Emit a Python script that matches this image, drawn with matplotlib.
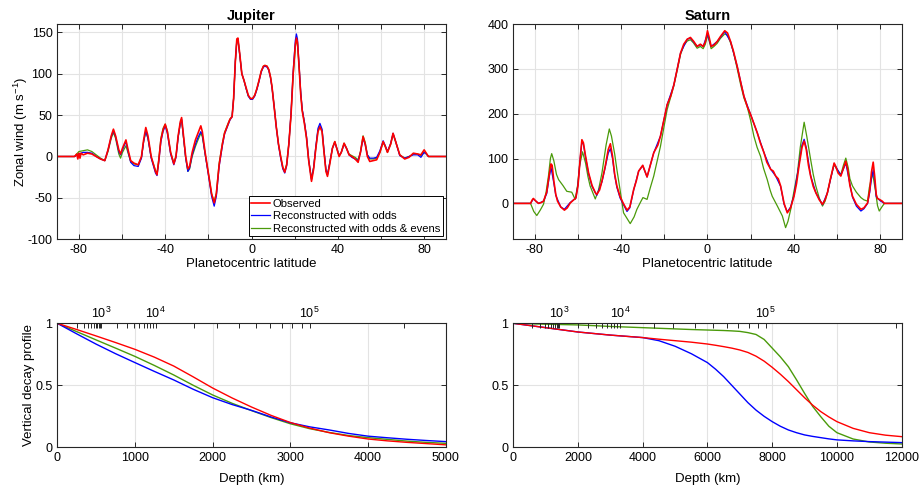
import numpy as np
import matplotlib
matplotlib.use("Agg")
import matplotlib.pyplot as plt

plt.rcParams['font.family'] = ['Liberation Sans', 'DejaVu Sans']
plt.rcParams['mathtext.default'] = 'regular'
plt.rcParams['axes.unicode_minus'] = False

RED = '#ff0000'
BLUE = '#0000ff'
GREEN = '#4a9a0a'
GRID = '#e3e3e3'
AXC = '#262626'

# ---- Jupiter zonal wind (lat, m/s) ----
jup_obs = [(-90,0),(-82,0),(-81,3),(-80.5,-3),(-80,4),(-79.5,-2),(-79,4),(-78,2),(-76,4),(-74,3),(-72,0),(-70,-3),(-68,-5),
    (-66.5,8),(-65,25),(-64,33),(-63,25),(-61.5,8),(-60.7,3),(-59.8,10),(-58.2,20),(-57.2,8),(-56,-5),(-54.5,-8),
    (-52.5,-10),(-51,0),(-50,20),(-49,35),(-48,25),(-46.5,0),(-44.5,-18),(-43.8,-22),(-43,-5),(-42,20),(-41,32),
    (-40,39),(-39,30),(-37.5,5),(-36,-9),(-35,0),(-34,25),(-33,42),(-32.4,47),(-31.5,25),(-30.5,0),(-29.5,-15),
    (-28.7,-12),(-27.5,5),(-26,20),(-24.8,28),(-23.5,37),(-22.8,30),(-21.5,5),(-20,-20),(-18.5,-45),(-17.3,-56),
    (-16.3,-45),(-15,-10),(-13.5,15),(-12.5,28),(-11,38),(-10,45),(-9,48),(-8.3,70),(-7.5,115),(-6.8,142),
    (-6.3,143),(-5.5,125),(-4.5,100),(-3.5,92),(-2.5,83),(-1.5,74),(-0.5,70),(0.5,70),(1.5,74),(2.5,82),(3.5,92),
    (4.5,103),(5.5,109),(6.2,110),(7.2,109),(8,105),(8.8,96),(9.5,84),(10.5,60),(11.5,35),(12.5,15),(13.5,0),
    (14.5,-13),(15.4,-19),(16.3,-10),(17.3,15),(18.3,50),(19.3,100),(20.3,135),(20.8,143),(21.3,138),(22,110),
    (22.8,75),(23.5,55),(24.5,40),(25.5,22),(26.5,-5),(27.8,-30),(28.8,-15),(29.8,10),(30.8,30),(31.7,36),
    (32.7,30),(33.5,8),(34.5,-18),(35.2,-24),(36.2,-10),(37.5,10),(38.6,18),(39.5,10),(40.6,0),(41.6,5),
    (42.9,16),(44,10),(45.2,2),(46.5,0),(48,-3),(49.4,-7),(50.5,5),(51.7,24),(52.7,15),(53.7,0),(54.8,-6),
    (56.5,-5),(58,-4),(59.5,5),(61,18),(62,12),(63,5),(64.5,15),(65.6,28),(66.8,18),(68.7,2),(71,-3),(73,-1),
    (75,4),(77,3),(78.5,2),(80,8),(81,4),(82,0),(90,0)]

jup_odd = [(-90,0),(-82,0),(-80,3),(-78,5),(-76,5),(-74,4),(-72,0),(-70,-3),(-68,-5),(-66.5,8),(-65,24),(-64,31),
    (-63,24),(-61.5,6),(-60.7,2),(-59.8,8),(-58.2,18),(-57.2,6),(-56,-7),(-54.5,-11),(-52.5,-12),(-51,-2),(-50,18),
    (-49,31),(-48,22),(-46.5,-2),(-44.5,-20),(-43.8,-23),(-43,-7),(-42,18),(-41,30),(-40,37),(-39,28),(-37.5,3),
    (-36,-10),(-35,-1),(-34,23),(-33,40),(-32.4,45),(-31.5,23),(-30.5,-2),(-29.5,-18),(-28.7,-14),(-27.5,2),
    (-26,15),(-24.8,23),(-23.5,30),(-22.8,26),(-21.5,3),(-20,-22),(-18.5,-48),(-17.3,-60),(-16.3,-48),(-15,-12),
    (-13.5,13),(-12.5,27),(-11,37),(-10,44),(-9,48),(-8.3,70),(-7.5,115),(-6.8,141),(-6.3,142),(-5.5,124),
    (-4.5,100),(-3.5,92),(-2.5,82),(-1.5,73),(-0.5,69),(0.5,69),(1.5,73),(2.5,81),(3.5,91),(4.5,102),(5.5,108),
    (6.2,109),(7.2,108),(8,104),(8.8,95),(9.5,83),(10.5,60),(11.5,35),(12.5,14),(13.5,-2),(14.5,-15),(15.4,-20),
    (16.3,-11),(17.3,15),(18.3,52),(19.3,103),(20.3,140),(20.8,148),(21.3,142),(22,113),(22.8,78),(23.5,57),
    (24.5,42),(25.5,24),(26.5,-4),(27.8,-28),(28.8,-13),(29.8,12),(30.8,34),(31.7,40),(32.7,33),(33.5,10),
    (34.5,-16),(35.2,-22),(36.2,-8),(37.5,10),(38.6,17),(39.5,10),(40.6,1),(41.6,5),(42.9,15),(44,10),(45.2,2),
    (46.5,-1),(48,-3),(49.4,-5),(50.5,5),(51.7,22),(52.7,14),(53.7,2),(54.8,-2),(56.5,-2),(58,-1),(59.5,7),
    (61,19),(62,13),(63,6),(64.5,16),(65.6,28),(66.8,18),(68.7,1),(71,-2),(73,0),(75,2),(77,2),(78.5,-1),
    (80,5),(81,3),(82,0),(90,0)]

jup_all = [(-90,0),(-82,0),(-80,6),(-78,7),(-76,8),(-74,6),(-72,2),(-70,-2),(-68,-5),(-66.5,6),(-65,22),(-64,29),
    (-63,22),(-61.5,3),(-60.7,-2),(-59.8,5),(-58.2,13),(-57.2,4),(-56,-6),(-54.5,-9),(-52.5,-10),(-51,-1),(-50,18),
    (-49,30),(-48,22),(-46.5,-1),(-44.5,-17),(-43.8,-20),(-43,-4),(-42,22),(-41,34),(-40,39),(-39,31),(-37.5,5),
    (-36,-8),(-35,1),(-34,24),(-33,40),(-32.4,44),(-31.5,22),(-30.5,-2),(-29.5,-18),(-28.7,-15),(-27.5,0),
    (-26,12),(-24.8,20),(-23.5,28),(-22.8,24),(-21.5,3),(-20,-20),(-18.5,-45),(-17.3,-55),(-16.3,-44),(-15,-8),
    (-13.5,16),(-12.5,29),(-11,39),(-10,45),(-9,49),(-8.3,70),(-7.5,114),(-6.8,140),(-6.3,141),(-5.5,124),
    (-4.5,100),(-3.5,92),(-2.5,82),(-1.5,73),(-0.5,70),(0.5,70),(1.5,74),(2.5,82),(3.5,92),(4.5,103),(5.5,109),
    (6.2,110),(7.2,109),(8,105),(8.8,96),(9.5,84),(10.5,61),(11.5,36),(12.5,15),(13.5,0),(14.5,-13),(15.4,-18),
    (16.3,-9),(17.3,16),(18.3,50),(19.3,98),(20.3,132),(20.8,140),(21.3,136),(22,110),(22.8,76),(23.5,56),
    (24.5,41),(25.5,22),(26.5,-5),(27.8,-27),(28.8,-13),(29.8,10),(30.8,31),(31.7,37),(32.7,31),(33.5,8),
    (34.5,-17),(35.2,-22),(36.2,-9),(37.5,10),(38.6,18),(39.5,10),(40.6,1),(41.6,5),(42.9,16),(44,10),(45.2,3),
    (46.5,1),(48,-1),(49.4,-4),(50.5,6),(51.7,25),(52.7,17),(53.7,2),(54.8,-3),(56.5,-3),(58,-2),(59.5,5),
    (61,17),(62,12),(63,5),(64.5,15),(65.6,27),(66.8,18),(68.7,2),(71,-2),(73,0),(75,3),(77,3),(78.5,1),
    (80,5),(81,3),(82,0),(90,0)]

# ---- Saturn zonal wind (lat, m/s) ----
sat_obs = [(-90,0),(-82,0),(-81.2,8),(-80.7,11),(-79.5,5),(-78.3,0),(-77,2),(-76,5),(-74.5,25),(-73.3,65),(-72.5,88),
    (-72,85),(-71.2,50),(-70.3,20),(-69.5,5),(-68,-8),(-66.3,-15),(-65,-10),(-63.6,1),(-62,8),(-61,12),(-60,40),
    (-59,100),(-58.2,142),(-57.5,135),(-56.5,105),(-55.1,68),(-53.5,40),(-52,24),(-51.3,20),(-50,30),(-48.9,50),
    (-47.5,80),(-46,120),(-45,133),(-44,105),(-43,65),(-42,39),(-40.5,15),(-39,0),(-37.3,-15),(-36,-8),
    (-34.2,31),(-33,50),(-31.9,72),(-30,85),(-29,72),(-28,59),(-26.5,85),(-24.9,113),(-23,130),(-21.8,150),
    (-20,190),(-18.7,220),(-17,240),(-15.6,264),(-14,300),(-12.5,335),(-11,355),(-9.4,366),(-7.9,370),
    (-6.5,362),(-4.8,350),(-3.3,355),(-2,350),(-1,360),(0,385),(0.8,370),(1.7,350),(3,353),(4.5,361),(6,372),
    (8,385),(9.3,380),(10.7,361),(12,340),(13.8,305),(15.5,268),(16.9,239),(18.5,215),(20,198),(21.5,178),
    (23.1,157),(24.5,135),(26.2,113),(27.5,92),(29.3,76),(30.5,72),(31.6,61),(32.8,55),(33.9,39),(35.5,0),
    (37,-21),(38.5,-10),(40.1,16),(41.3,45),(42.4,83),(43.8,125),(44.8,139),(45.8,120),(46.8,85),(47.8,61),
    (49,38),(50.2,24),(51.8,8),(53.3,-2),(54.5,8),(55.6,24),(57,55),(58.7,90),(59.5,82),(60.5,68),(61.8,61),
    (63,78),(64.1,94),(65,75),(66,40),(67.2,16),(69,-2),(71.1,-13),(72.5,-10),(74.2,1),(75.2,30),(76,70),
    (76.8,92),(77.5,60),(78.2,20),(78.8,11),(80,8),(81,5),(82,0),(90,0)]

sat_odd = [(-90,0),(-82,0),(-80.7,10),(-78.3,0),(-76,5),(-74.5,22),(-73.3,60),(-72.5,80),(-71.2,45),(-70.3,18),
    (-68,-8),(-66.3,-13),(-63.6,2),(-61,12),(-60,42),(-59,100),(-58.2,138),(-57.5,132),(-56.5,103),(-55.1,66),
    (-53.5,38),(-51.3,18),(-48.9,48),(-47.5,78),(-46,112),(-45,122),(-44,100),(-43,62),(-42,36),(-40.5,12),
    (-39,-2),(-37.3,-18),(-36,-10),(-34.2,30),(-31.9,72),(-30,84),(-28,59),(-24.9,113),(-21.8,150),(-18.7,220),
    (-15.6,264),(-12.5,335),(-9.4,366),(-7.9,369),(-4.8,350),(-3.3,354),(-2,350),(0,378),(1.7,350),(4.5,361),
    (8,383),(10.7,361),(13.8,305),(16.9,239),(20,198),(23.1,157),(26.2,113),(29.3,76),(31.6,61),(33.9,38),
    (35.5,-2),(37,-19),(38.5,-8),(40.1,18),(42.4,87),(43.8,130),(44.8,143),(45.8,124),(47.8,62),(50.2,24),
    (53.3,-3),(55.6,24),(58.7,88),(61.8,63),(64.1,90),(67.2,14),(69,-6),(71.1,-17),(72.5,-12),(74.2,0),
    (75.2,25),(76,55),(76.8,75),(77.5,50),(78.2,15),(80,6),(82,0),(90,0)]

sat_all = [(-90,0),(-82,0),(-80.5,-18),(-79.1,-27),(-77.5,-15),(-76,-2),(-74.8,25),(-73.7,61),(-72.8,100),(-72.2,111),
    (-71.2,95),(-70,65),(-69,53),(-67,40),(-65.2,27),(-62.9,25),(-61.3,9),(-60.2,40),(-59.3,83),(-57.9,115),
    (-56.5,90),(-55.4,60),(-54.4,39),(-52,10),(-50.5,30),(-48.9,68),(-47,130),(-45.5,166),(-44.5,150),(-43,110),
    (-42,76),(-40.5,30),(-38.9,-21),(-35.8,-45),(-34,-30),(-32.7,-13),(-30.8,5),(-29.9,13),(-28,9),(-26.5,35),
    (-24.9,61),(-23.3,95),(-21.8,127),(-20,175),(-18.7,209),(-17,238),(-15.6,262),(-14,298),(-12.5,332),
    (-11,352),(-9.4,362),(-7.9,365),(-6.5,358),(-4.8,346),(-3.3,350),(-2,345),(-1,355),(0,375),(0.8,362),
    (1.7,345),(3,350),(4.5,357),(6,368),(8,378),(9.3,375),(10.7,358),(12,338),(13.8,300),(15.5,262),(16.9,235),
    (18.4,216),(20,185),(21.5,150),(23,125),(24.6,105),(26,78),(27.7,53),(29,30),(30,16),(32.4,-6),(34.7,-28),
    (36.2,-54),(37.3,-40),(38.6,-13),(40,25),(41.7,68),(43,125),(44.8,181),(46,150),(47.8,98),(49,65),(50.2,39),
    (51.8,12),(53.3,-6),(54.5,5),(55.6,24),(57,55),(58.7,87),(59.7,78),(61.8,64),(63,85),(64.1,101),(65.2,80),
    (66,55),(67.2,39),(69,25),(71.1,13),(72.5,8),(74.2,5),(75,35),(76.5,68),(77.8,30),(78.8,-5),(79.6,-17),
    (80.8,-8),(82,0),(90,0)]

# ---- vertical decay profiles ----
jup_depth = [0, 250, 500, 750, 1000, 1250, 1500, 1750, 2000, 2250, 2500, 2750, 3000, 3250, 3500, 3750,
             4000, 4250, 4500, 4750, 5000]
jup_decay_obs = [1.0, 0.95, 0.898, 0.845, 0.79, 0.727, 0.655, 0.568, 0.478, 0.398, 0.325, 0.258, 0.2, 0.155,
                 0.118, 0.09, 0.067, 0.052, 0.04, 0.03, 0.02]
jup_decay_odd = [1.0, 0.915, 0.832, 0.755, 0.683, 0.612, 0.543, 0.468, 0.4, 0.345, 0.298, 0.245, 0.198, 0.165,
                 0.14, 0.112, 0.09, 0.077, 0.065, 0.055, 0.046]
jup_decay_all = [1.0, 0.933, 0.866, 0.80, 0.733, 0.66, 0.583, 0.50, 0.422, 0.355, 0.296, 0.24, 0.19, 0.15,
                 0.12, 0.095, 0.078, 0.064, 0.05, 0.04, 0.032]

sat_depth = [0, 1000, 2000, 3000, 4000, 4500, 5000, 5500, 6000, 6250, 6500, 6750, 7000, 7250, 7500, 7750,
             8000, 8250, 8500, 8750, 9000, 9250, 9500, 9750, 10000, 10500, 11000, 11500, 12000]
sat_decay_obs = [1.0, 0.965, 0.93, 0.905, 0.885, 0.872, 0.86, 0.848, 0.833, 0.823, 0.812, 0.80, 0.785, 0.765,
                 0.735, 0.695, 0.645, 0.59, 0.53, 0.465, 0.40, 0.34, 0.288, 0.245, 0.207, 0.153, 0.118, 0.098,
                 0.086]
sat_decay_odd = [1.0, 0.965, 0.93, 0.905, 0.885, 0.86, 0.815, 0.755, 0.683, 0.63, 0.57, 0.50, 0.43, 0.36,
                 0.30, 0.25, 0.207, 0.17, 0.14, 0.118, 0.10, 0.088, 0.078, 0.068, 0.06, 0.052, 0.046, 0.042,
                 0.038]
sat_decay_all = [1.0, 0.993, 0.987, 0.975, 0.965, 0.96, 0.955, 0.95, 0.946, 0.944, 0.942, 0.939, 0.935, 0.925,
                 0.91, 0.87, 0.80, 0.73, 0.65, 0.545, 0.435, 0.33, 0.247, 0.17, 0.118, 0.067, 0.043, 0.033,
                 0.027]

# pressure (bar) at depth (km)
jup_press = [1e2, 1e3, 1e4, 3e4, 1e5, 2e5]
jup_press_depth = [248, 561, 1267, 2050, 3249, 4462]
sat_press = [1e2, 1e3, 1e4, 3e4, 1e5, 2e5]
sat_press_depth = [569, 1421, 3297, 4944, 7800, 11830]


def style(ax):
    ax.grid(True, color=GRID, lw=0.8)
    ax.set_axisbelow(True)
    ax.tick_params(direction='in', top=True, right=True, length=3.5, width=0.7,
                   labelsize=9, colors=AXC, labelcolor='black')
    for s in ax.spines.values():
        s.set_color(AXC)
        s.set_linewidth(0.8)


def wind(ax, obs, odd, allp, ylim, yticks):
    for data, c, lw, lab in [(allp, GREEN, 0.9, 'Reconstructed with odds & evens'),
                             (odd, BLUE, 0.9, 'Reconstructed with odds'),
                             (obs, RED, 1.2, 'Observed')]:
        a = np.array(data)
        ax.plot(a[:, 0], a[:, 1], color=c, lw=lw, label=lab)
    ax.set_xlim(-90, 90)
    ax.set_ylim(*ylim)
    xt = np.arange(-80, 81, 20)
    ax.set_xticks(xt)
    ax.set_xticklabels([str(v) if v % 40 == 0 else '' for v in xt])
    ax.set_yticks(yticks)
    ax.set_xlabel('Planetocentric latitude', fontsize=9.5, labelpad=1)
    style(ax)


def decay(ax, depth, obs, odd, allp, xmax, xstep, press, press_depth):
    ax.plot(depth, allp, color=GREEN, lw=1.0)
    ax.plot(depth, odd, color=BLUE, lw=1.0)
    ax.plot(depth, obs, color=RED, lw=1.0)
    ax.set_xlim(0, xmax)
    ax.set_ylim(0, 1)
    ax.set_xticks(np.arange(0, xmax + 1, xstep))
    ax.set_yticks([0, 0.5, 1])
    ax.set_yticklabels(['0', '0.5', '1'])
    ax.set_xlabel('Depth (km)', fontsize=9.5, labelpad=6)
    style(ax)
    lp = np.log10(press)
    major = [3, 4, 5]
    minor = [np.log10(m * 10.0 ** e) for e in range(2, 6) for m in range(1, 10)]
    minor = [v for v in minor if lp[0] <= v <= lp[-1] and round(v, 6) not in major]
    tw = ax.twiny()
    tw.set_xlim(0, xmax)
    tw.set_xticks(np.interp(major, lp, press_depth))
    tw.set_xticklabels(['$10^{%d}$' % e for e in major])
    tw.set_xticks(np.interp(minor, lp, press_depth), minor=True)
    tw.tick_params(which='both', direction='in', length=3.5, width=0.7, pad=2,
                   labelsize=9, colors=AXC, labelcolor='black')
    for s in tw.spines.values():
        s.set_visible(False)


fig = plt.figure(figsize=(9.23, 4.94), dpi=100)
ax1 = fig.add_axes([0.0621, 0.5156, 0.4208, 0.4358])
ax2 = fig.add_axes([0.5561, 0.5156, 0.4208, 0.4358])
ax3 = fig.add_axes([0.0621, 0.0945, 0.4208, 0.2510])
ax4 = fig.add_axes([0.5561, 0.0945, 0.4208, 0.2510])

wind(ax1, jup_obs, jup_odd, jup_all, (-100, 160), np.arange(-100, 151, 50))
ax1.set_title('Jupiter', fontsize=10.5, fontweight='bold', pad=3)
ax1.set_ylabel('Zonal wind (m s$^{-1}$)', fontsize=9.5, labelpad=-2)
h, l = ax1.get_legend_handles_labels()
leg = ax1.legend(h[::-1], l[::-1], loc='lower right', fontsize=8.1, frameon=True, fancybox=False,
                 edgecolor='black', framealpha=1, handlelength=1.7, handletextpad=0.2,
                 borderpad=0.25, labelspacing=0.2, borderaxespad=0.25)
leg.get_frame().set_linewidth(0.7)

wind(ax2, sat_obs, sat_odd, sat_all, (-80, 400), np.arange(0, 401, 100))
ax2.set_title('Saturn', fontsize=10.5, fontweight='bold', pad=3)

decay(ax3, jup_depth, jup_decay_obs, jup_decay_odd, jup_decay_all, 5000, 1000, jup_press, jup_press_depth)
ax3.set_ylabel('Vertical decay profile', fontsize=9.5, labelpad=0)
decay(ax4, sat_depth, sat_decay_obs, sat_decay_odd, sat_decay_all, 12000, 2000, sat_press, sat_press_depth)

fig.savefig('out.png', dpi=100)
